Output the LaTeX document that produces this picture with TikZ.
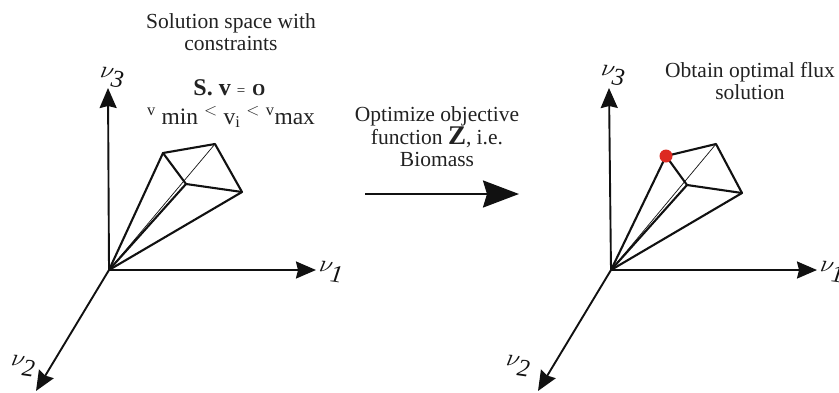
\documentclass[tikz,border=0pt]{standalone}
\usepackage{fontspec}
\setmainfont{Liberation Serif}
\newfontfamily\lmold[Numbers=OldStyle]{Latin Modern Roman}
\usetikzlibrary{arrows.meta}
\definecolor{ink}{HTML}{111111}
\definecolor{txt}{HTML}{222222}
\definecolor{dotred}{HTML}{DD2A22}
\tikzset{
  x=1pt,y=-1pt,
  axis/.style={draw=ink,line width=1.9pt,-{Stealth[length=20pt,width=17pt,inset=2pt]}},
  edge/.style={draw=ink,line width=2.1pt,line join=round,line cap=round},
  thin edge/.style={draw=ink,line width=0.7pt},
  label/.style={text=txt,font=\fontsize{21.5}{22.5}\selectfont,align=center,inner sep=0pt},
  axlabel/.style={text=ink,inner sep=0pt,font=\fontsize{35}{35}\selectfont},
}
\newcommand{\axv}[1]{$\nu_{\mathit{#1}}$}
\begin{document}
\begin{tikzpicture}
\useasboundingbox (0,0) rectangle (839,392);
% left
\coordinate (O1) at (109,270);
\coordinate (X1) at (316,270);
\coordinate (Y1) at (108,88);
\coordinate (Z1) at (36,391);
\coordinate (A1) at (163,153);
\coordinate (B1) at (215,144);
\coordinate (C1) at (242,192);
\coordinate (D1) at (186,184);
\draw[thin edge] (O1) -- (B1);
\draw[edge] (O1) -- (A1) -- (B1) -- (C1) -- (O1);
\draw[edge] (A1) -- (D1) -- (C1);
\draw[edge] (O1) -- (D1);
\draw[axis] (O1) -- (X1);
\draw[axis] (O1) -- (Y1);
\draw[axis] (O1) -- (Z1);
\node[axlabel] (n3a) at (112,78) {\rotatebox{-8}{\axv{3}}};
\node[axlabel] (n1a) at (331,272) {\rotatebox{-8}{\axv{1}}};
\node[axlabel] (n2a) at (23,366) {\rotatebox{-8}{\axv{2}}};
\node[label] (t1) at (231,32) {Solution space with\\constraints};
\node[label,font=\fontsize{24}{24}\selectfont] (t2) at (230,88) {\textbf{S. v} {\fontsize{15}{15}\selectfont =} {\lmold\bfseries 0}};
\node[label,font=\fontsize{23.5}{24}\selectfont] (t3) at (231,117) {$^{\mathrm{v}}$ min $^{<}$ v$_{\mathrm{i}}$ $^{<}$ $^{\mathrm{v}}$max};
% middle
\node[label] (t4) at (437,137) {Optimize objective\\function {\fontsize{27}{22}\selectfont\textbf{Z}}, i.e.\\Biomass};
\coordinate (M1) at (365,194);
\coordinate (M2) at (519,194);
\draw[draw=ink,line width=2.4pt,-{Stealth[length=36pt,width=27pt,inset=4pt]}] (M1) -- (M2);
% right
\coordinate (O2) at (611,270);
\coordinate (X2) at (817,270);
\coordinate (Y2) at (609,88);
\coordinate (Z2) at (538,391);
\coordinate (A2) at (666,156);
\coordinate (B2) at (716,144);
\coordinate (C2) at (742,193);
\coordinate (D2) at (687,185);
\draw[thin edge] (O2) -- (B2);
\draw[edge] (O2) -- (A2) -- (B2) -- (C2) -- (O2);
\draw[edge] (A2) -- (D2) -- (C2);
\draw[edge] (O2) -- (D2);
\draw[axis] (O2) -- (X2);
\draw[axis] (O2) -- (Y2);
\draw[axis] (O2) -- (Z2);
\node[circle,fill=dotred,minimum size=13pt,inner sep=0pt] (dot) at (A2) {};
\node[axlabel] (n3b) at (613,76) {\rotatebox{-8}{\axv{3}}};
\node[axlabel] (n1b) at (832,272) {\rotatebox{-8}{\axv{1}}};
\node[axlabel] (n2b) at (518,366) {\rotatebox{-8}{\axv{2}}};
\node[label] (t5) at (750,81) {Obtain optimal flux\\solution};
\end{tikzpicture}
\end{document}
